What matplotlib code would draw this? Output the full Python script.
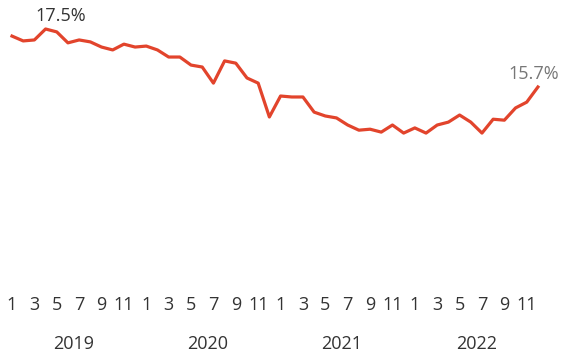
import matplotlib.pyplot as plt

# monthly rate (%) Jan 2019 .. Dec 2022
rate = [17.28, 17.13, 17.16, 17.50, 17.41, 17.07, 17.16, 17.10, 16.94, 16.85, 17.03, 16.94,
        16.97, 16.85, 16.63, 16.63, 16.38, 16.32, 15.82, 16.51, 16.44, 15.98, 15.82, 14.77,
        15.42, 15.39, 15.39, 14.92, 14.80, 14.74, 14.52, 14.36, 14.39, 14.30, 14.52, 14.27,
        14.43, 14.27, 14.52, 14.61, 14.83, 14.61, 14.27, 14.70, 14.67, 15.05, 15.23, 15.70]
years = ['2019', '2020', '2021', '2022']
month_labels = ['1', '3', '5', '7', '9', '11']

plt.rcParams['font.family'] = ['Open Sans', 'DejaVu Sans']

fig = plt.figure(figsize=(5.65, 3.56), dpi=100)
ax = fig.add_axes([0, 76 / 356, 1, 280 / 356])

x = list(range(len(rate)))
ax.plot(x, rate, color='#e2442c', linewidth=2.3, solid_joinstyle='round')

# highlight max and last value
i_max = rate.index(max(rate))
ax.annotate(f'{rate[i_max]:.1f}%', (i_max, rate[i_max]), xytext=(11, 9),
            textcoords='offset points', ha='center', va='center',
            fontsize=13, color='#333333')
ax.annotate(f'{rate[-1]:.1f}%', (x[-1], rate[-1]), xytext=(-3, 9.5),
            textcoords='offset points', ha='center', va='center',
            fontsize=13, color='#777777')

ax.set_xlim(-1.072, 49.42)
ax.set_ylim(9.71, 18.40)

# month ticks + year labels
ax.set_xticks(range(0, 48, 2), month_labels * 4)
ax.set_xticks([12 * k + 5.5 for k in range(4)], years, minor=True)
ax.tick_params(axis='x', which='major', length=0, pad=11.5, labelsize=13, colors='#333333')
ax.tick_params(axis='x', which='minor', length=0, pad=39.5, labelsize=13, colors='#333333')
ax.set_yticks([])
for s in ax.spines.values():
    s.set_visible(False)

fig.savefig('out.png', dpi=100)
